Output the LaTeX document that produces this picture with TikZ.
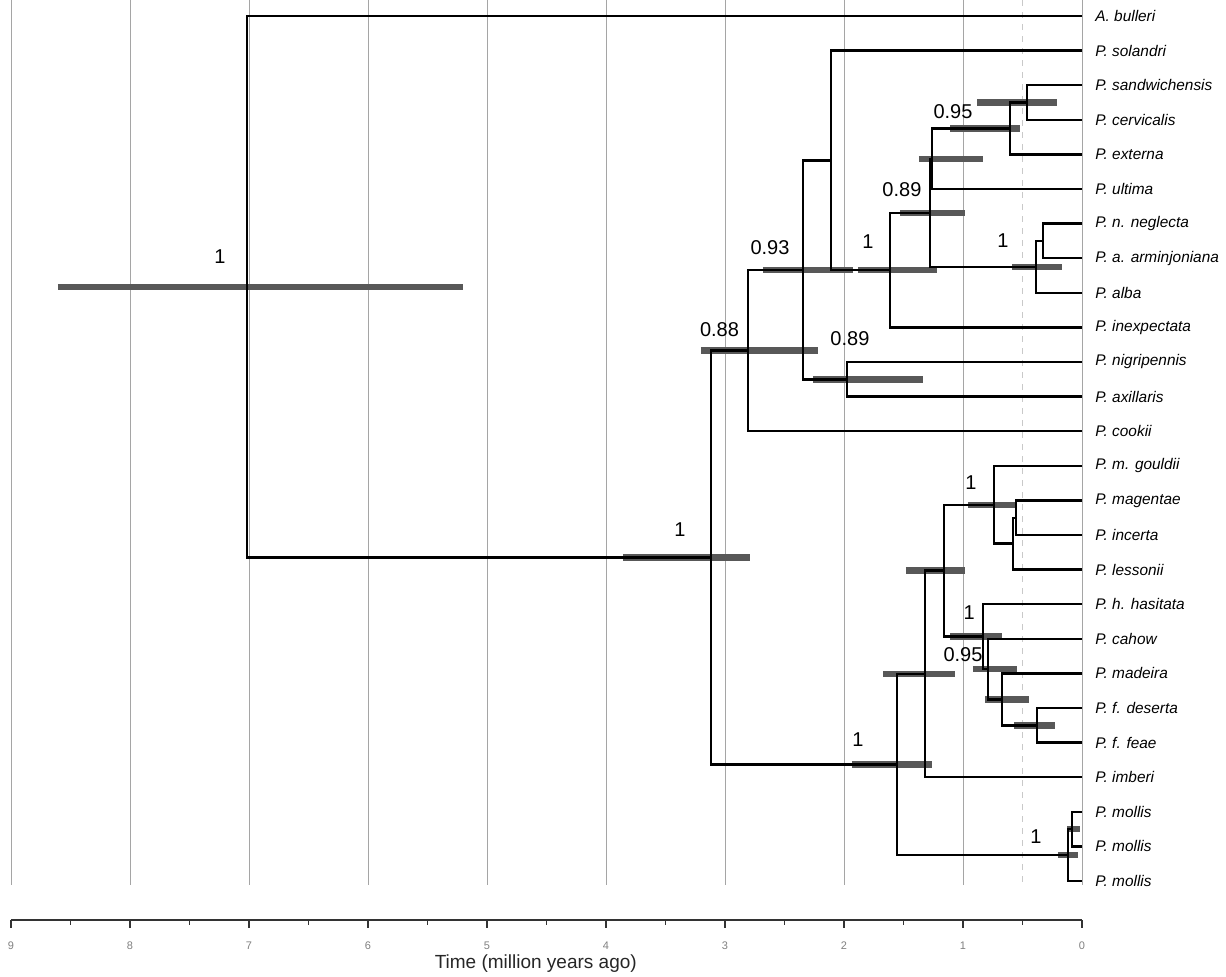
\documentclass[tikz,border=0pt]{standalone}
\usepackage{fontspec}
\setmainfont{Liberation Sans}
\usetikzlibrary{calc}
\definecolor{barcol}{RGB}{88,88,88}
\definecolor{gridcol}{RGB}{165,165,165}
\tikzset{
  branch/.style={line width=1.2pt,black},
  hpd/.style={line width=3.2pt,draw=barcol},
  gridline/.style={line width=0.45pt,draw=gridcol},
  taxon/.style={anchor=west,inner sep=0pt,xshift=6.5pt,font=\itshape\fontsize{7.7}{9}\selectfont},
  support/.style={inner sep=0pt,font=\fontsize{10}{11}\selectfont},
  ticklab/.style={inner sep=0pt,text=gray,font=\fontsize{5.5}{6}\selectfont}
}

\begin{document}
\begin{tikzpicture}[x=-59.5pt,y=-17.3pt]
\useasboundingbox (9.0924,-0.4624) rectangle (-1.2101,27.746);
% grid
\foreach \t in {0,...,9}
  \draw[gridline] (\t,-0.46) -- (\t,25.12);
\draw[gridline,dashed,draw=gridcol!60] (0.5,-0.46) -- (0.5,25.12);
% tips and names
\foreach \lab [count=\k from 0] in {A. bulleri,P. solandri,P. sandwichensis,P. cervicalis,P. externa,P. ultima,P. n. neglecta,P. a. arminjoniana,P. alba,P. inexpectata,P. nigripennis,P. axillaris,P. cookii,P. m. gouldii,P. magentae,P. incerta,P. lessonii,P. h. hasitata,P. cahow,P. madeira,P. f. deserta,P. f. feae,P. imberi,P. mollis,P. mollis,P. mollis}
{
  \coordinate (tip\k) at (0,\k);
  \node[taxon] (lab\k) at (tip\k) {\lab};
}
% internal nodes
\coordinate (nRoot) at (7.017,7.825);
\coordinate (nR) at (3.118,15.65);
\coordinate (nA) at (2.807,9.668);
\coordinate (nB) at (2.345,7.336);
\coordinate (nE) at (2.109,4.172);
\coordinate (nF) at (1.613,7.344);
\coordinate (nI) at (1.277,5.688);
\coordinate (nG) at (1.261,4.125);
\coordinate (nH) at (0.605,3.25);
\coordinate (nSC) at (0.462,2.5);
\coordinate (nN) at (0.387,7.25);
\coordinate (nNA) at (0.328,6.5);
\coordinate (nD) at (1.975,10.5);
\coordinate (nL) at (1.555,21.633);
\coordinate (nM) at (1.319,19.016);
\coordinate (nP) at (1.160,16.031);
\coordinate (nQ) at (0.739,14.125);
\coordinate (nT) at (0.580,15.25);
\coordinate (nU) at (0.555,14.5);
\coordinate (nS) at (0.832,17.938);
\coordinate (nV) at (0.790,18.875);
\coordinate (nW) at (0.672,19.75);
\coordinate (nX) at (0.378,20.5);
\coordinate (nZ) at (0.118,24.25);
\coordinate (nY) at (0.084,23.5);
% node age intervals
\foreach \n/\a/\b in {nRoot/8.605/5.202,nR/3.857/2.790,nA/3.202/2.218,nB/2.681/1.924,nF/1.882/1.218,nI/1.529/0.983,nG/1.370/0.832,nH/1.109/0.521,nSC/0.882/0.210,nN/0.588/0.168,nD/2.261/1.336,nL/1.933/1.261,nM/1.672/1.067,nP/1.479/0.983,nQ/0.958/0.546,nS/1.109/0.672,nV/0.916/0.546,nW/0.815/0.445,nX/0.571/0.227,nY/0.126/0.017,nZ/0.202/0.034}
  \draw[hpd] (\n -| \a,0) -- (\n -| \b,0);
% branches
\foreach \p/\c in {nRoot/tip0,nRoot/nR,nR/nA,nR/nL,nA/nB,nA/tip12,nB/nE,nB/nD,nE/tip1,nE/nF,nF/nI,nF/tip9,nI/nG,nI/nN,nG/nH,nG/tip5,nH/nSC,nH/tip4,nSC/tip2,nSC/tip3,nN/nNA,nN/tip8,nNA/tip6,nNA/tip7,nD/tip10,nD/tip11,nL/nM,nL/nZ,nM/nP,nM/tip22,nP/nQ,nP/nS,nQ/tip13,nQ/nT,nT/nU,nT/tip16,nU/tip14,nU/tip15,nS/tip17,nS/nV,nV/tip18,nV/nW,nW/tip19,nW/nX,nX/tip20,nX/tip21,nZ/nY,nZ/tip25,nY/tip23,nY/tip24}
  \draw[branch] (\p) |- (\c);
% posterior support
\node[support] (sRoot) at (7.244,6.965) {1};
\node[support] (sR) at (3.378,14.855) {1};
\node[support] (sA) at (3.046,9.075) {0.88};
\node[support] (sB) at (2.622,6.705) {0.93};
\node[support] (sF) at (1.798,6.532) {1};
\node[support] (sD) at (1.950,9.335) {0.89};
\node[support] (sI) at (1.513,5.029) {0.89};
\node[support] (sH) at (1.084,2.775) {0.95};
\node[support] (sN) at (0.664,6.503) {1};
\node[support] (sQ) at (0.933,13.497) {1};
\node[support] (sS) at (0.949,17.254) {1};
\node[support] (sV) at (1.000,18.468) {0.95};
\node[support] (sL) at (1.882,20.925) {1};
\node[support] (sZ) at (0.387,23.728) {1};
% time axis
\draw[line width=0.6pt,black!80] (9,26.127) coordinate (ax9) -- (0,26.127) coordinate (ax0);
\foreach \t in {0,...,9}
{
  \draw[line width=0.6pt,black!80] (\t,26.127) -- ++(0,-4pt);
  \node[ticklab] (tk\t) at (\t,26.88) {\t};
}
\foreach \t in {0.5,1.5,...,8.5}
  \draw[line width=0.6pt,black!80] (\t,26.127) -- ++(0,-2.5pt);
\node[inner sep=0pt,text=black!85,font=\fontsize{9.5}{11}\selectfont] (xlab) at (4.59,27.40) {Time (million years ago)};
\end{tikzpicture}
\end{document}
